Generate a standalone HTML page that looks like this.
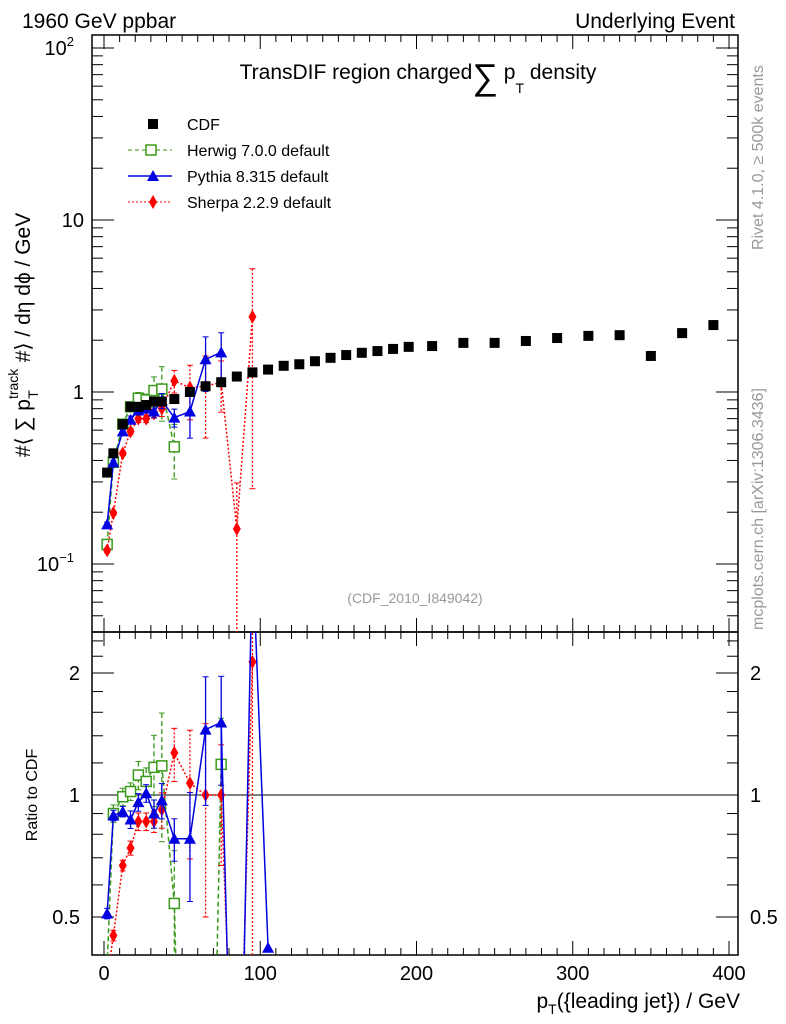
<!DOCTYPE html>
<html><head><meta charset="utf-8">
<style>
html,body{margin:0;padding:0;background:#fff;width:786px;height:1024px;overflow:hidden;}
svg{display:block;font-family:"Liberation Sans",sans-serif;}
</style></head>
<body>
<svg id="chart" width="786" height="1024" viewBox="0 0 786 1024" xmlns="http://www.w3.org/2000/svg">
<text x="22" y="28" font-size="21">1960 GeV ppbar</text>
<text x="735" y="28" font-size="21" text-anchor="end">Underlying Event</text>
<text x="418" y="79" font-size="21" text-anchor="middle">TransDIF region charged<tspan font-size="36" dy="10">∑</tspan><tspan dy="-10"> p</tspan><tspan font-size="14" dy="14">T</tspan><tspan dy="-14"> density</tspan></text>
<text transform="translate(763,250) rotate(-90)" font-size="16" fill="#999">Rivet 4.1.0, ≥ 500k events</text>
<text transform="translate(763,630) rotate(-90)" font-size="16" fill="#999">mcplots.cern.ch [arXiv:1306.3436]</text>
<text x="415" y="603" font-size="14" fill="#999" text-anchor="middle">(CDF_2010_I849042)</text>
<text transform="translate(30,335) rotate(-90)" font-size="21" text-anchor="middle">#⟨ ∑ p<tspan font-size="14" dy="-12">track</tspan><tspan font-size="14" dy="20" dx="-30">T</tspan><tspan dy="-8" dx="22"> #⟩ / dη dϕ / GeV</tspan></text>
<text transform="translate(37,795) rotate(-90)" font-size="16" text-anchor="middle">Ratio to CDF</text>
<text x="740" y="1008" font-size="21" text-anchor="end">p<tspan font-size="14" dy="6">T</tspan><tspan dy="-6">({leading jet}) / GeV</tspan></text>
<g id="legend">
 <g><rect x="148" y="119" width="10" height="10" fill="#000"/><text x="187" y="130" font-size="16">CDF</text></g>
 <g><line x1="128" x2="172" y1="150" y2="150" stroke="#3a9a1a" stroke-dasharray="4,3"/><rect x="146" y="145" width="10" height="10" fill="#fff" stroke="#3a9a1a" stroke-width="1.5"/><text x="187" y="156" font-size="16">Herwig 7.0.0 default</text></g>
 <g><line x1="128" x2="172" y1="176" y2="176" stroke="#0000e0" stroke-width="1.5"/><polygon points="153,170 147,181 159,181" fill="#0000e0"/><text x="187" y="182" font-size="16">Pythia 8.315 default</text></g>
 <g><line x1="128" x2="172" y1="202" y2="202" stroke="#f00" stroke-dasharray="2,2"/><polygon points="153,195 157,202 153,209 149,202" fill="#f00"/><text x="187" y="208" font-size="16">Sherpa 2.2.9 default</text></g>
</g>
<g id="axes"></g>
<g id="marks"></g>
</svg>
<script>
const xCDF=[2,6,12,17,22,27,32,37,45,55,65,75,85,95,105,115,125,135,145,155,165,175,185,195,210,230,250,270,290,310,330,350,370,390];
const yCDF=[0.34,0.44,0.65,0.82,0.82,0.84,0.88,0.88,0.91,1.0,1.08,1.14,1.23,1.30,1.35,1.42,1.45,1.51,1.58,1.64,1.69,1.73,1.78,1.83,1.85,1.93,1.93,1.98,2.06,2.12,2.14,1.62,2.2,2.45];
const xMC=[2,6,12,17,22,27,32,37,45,55,65,75,85,95,105];
const yHerwig=[0.13,0.39,0.65,0.82,0.92,0.90,1.02,1.04,0.48];
const errHerwig=[0.05,0.05,0.05,0.05,0.08,0.08,0.2,0.35,0.35,0,0,0.3];
const rHerwig=[0.38,0.90,0.99,1.02,1.12,1.08,1.17,1.18,0.54,0.02,0.02,1.19];
const yPythia=[0.17,0.39,0.59,0.69,0.78,0.80,0.77,0.89,0.71,0.77,1.55,1.70];
const errPythia=[0.03,0.03,0.03,0.05,0.05,0.05,0.08,0.1,0.12,0.3,0.35,0.3,0];
const rPythia=[0.51,0.89,0.91,0.87,0.96,1.01,0.90,0.97,0.78,0.78,1.45,1.51,0.05,4.0,0.42];
const ySherpa=[0.12,0.198,0.44,0.59,0.70,0.70,0.75,0.80,1.16,1.06,1.08,1.14,0.16,2.74];
const errSherpa=[0.03,0.03,0.03,0.04,0.05,0.05,0.06,0.1,0.15,0.35,0.5,0.33,0.85,0.9];
const rSherpa=[0.35,0.45,0.67,0.74,0.86,0.86,0.86,0.92,1.27,1.07,1.0,1.0,0.1,2.13];
const xTicks=[0,100,200,300,400];

const NS="http://www.w3.org/2000/svg";
const L=92,R=738,T=35,MB=632,RB=955;
const X=v=>104+v*1.5625;
const Y=v=>392-172*Math.log10(v);
const RY=v=>795-122*Math.log2(v);
const axes=document.getElementById('axes'),marks=document.getElementById('marks');
function mk(tag,at,p){const e=document.createElementNS(NS,tag);for(const k in at)e.setAttribute(k,at[k]);(p||axes).appendChild(e);return e;}
const defs=mk('defs',{});
const c1=mk('clipPath',{id:'cm'},defs);mk('rect',{x:L,y:T,width:R-L,height:MB-T},c1);
const c2=mk('clipPath',{id:'cr'},defs);mk('rect',{x:L,y:MB,width:R-L,height:RB-MB},c2);
let f=mk('rect',{x:L,y:T,width:R-L,height:MB-T,fill:'none',stroke:'#000','stroke-width':1.5});


f=mk('rect',{x:L,y:MB,width:R-L,height:RB-MB,fill:'none',stroke:'#000','stroke-width':1.5});


for(let v=0;v<=410;v+=10){const px=X(v);if(px>R)break;const len=v%100===0?14:7;
 mk('line',{x1:px,x2:px,y1:MB,y2:MB-len,stroke:'#000'});mk('line',{x1:px,x2:px,y1:T,y2:T+len,stroke:'#000'});
 mk('line',{x1:px,x2:px,y1:RB,y2:RB-len,stroke:'#000'});mk('line',{x1:px,x2:px,y1:MB,y2:MB+len,stroke:'#000'});}
xTicks.forEach(v=>{const t=mk('text',{x:X(v),y:980,'font-size':20,'text-anchor':'middle'});t.textContent=v;
 
 });
for(let d=-2;d<=2;d++)for(let m=1;m<10;m++){const v=m*Math.pow(10,d);const py=Y(v);if(py<T||py>MB)continue;const len=m===1?22:11;
 mk('line',{x1:L,x2:L+len,y1:py,y2:py,stroke:'#000'});mk('line',{x1:R,x2:R-len,y1:py,y2:py,stroke:'#000'});}
[[0.1,'10','−1'],[1,'1',''],[10,'10',''],[100,'10','2']].forEach(a=>{const t=mk('text',{x:a[2]?74:84,y:Y(a[0])+7,'font-size':20,'text-anchor':'end'});
 t.textContent=a[1];if(a[2]){const s=mk('tspan',{'font-size':13,dy:-9},t);s.textContent=a[2];}
 
 });
[0.5,0.6,0.7,0.8,0.9,1,1.2,1.4,1.6,1.8,2,2.2,2.4].forEach(v=>{const py=RY(v);const big=[0.5,1,2].includes(v);const len=big?22:11;
 mk('line',{x1:L,x2:L+len,y1:py,y2:py,stroke:'#000'});mk('line',{x1:R,x2:R-len,y1:py,y2:py,stroke:'#000'});});
[0.5,1,2].forEach(v=>{[[80,'end'],[750,'start']].forEach(s=>{const t=mk('text',{x:s[0],y:RY(v)+7,'font-size':20,'text-anchor':s[1]});t.textContent=v;
 
 });});
const one=mk('line',{x1:L,x2:R,y1:RY(1),y2:RY(1),stroke:'#000'});



const gm=mk('g',{'clip-path':'url(#cm)'},marks),gr=mk('g',{'clip-path':'url(#cr)'},marks);
function marker(g,type,col,px,py){
 if(type==='sq')return mk('rect',{x:px-5,y:py-5,width:10,height:10,fill:'#000'},g);
 if(type==='osq')return mk('rect',{x:px-5,y:py-5,width:10,height:10,fill:'#fff',stroke:col,'stroke-width':1.5},g);
 if(type==='tri')return mk('polygon',{points:`${px},${py-6} ${px-6},${py+5} ${px+6},${py+5}`,fill:col},g);
 return mk('polygon',{points:`${px},${py-7} ${px+4},${py} ${px},${py+7} ${px-4},${py}`,fill:col},g);
}
function series(name,g,xs,ys,errs,type,col,dash,yf){
 const n=ys.length;let d='';
 for(let i=0;i<n;i++)d+=(i?'L':'M')+X(xs[i])+','+yf(ys[i]);
 if(col){const p=mk('path',{d:d,fill:'none',stroke:col,'stroke-width':1.5,'stroke-dasharray':dash},g);
  
  }
 for(let i=0;i<n;i++){
  if(errs&&errs[i]>0){const px=X(xs[i]);const a=yf(ys[i]*(1+errs[i])),b=yf(Math.max(ys[i]*(1-errs[i]),1e-3));
   mk('line',{x1:px,x2:px,y1:a,y2:b,stroke:col,'stroke-width':1.3,'stroke-dasharray':dash},g);
   mk('line',{x1:px-3,x2:px+3,y1:a,y2:a,stroke:col},g);mk('line',{x1:px-3,x2:px+3,y1:b,y2:b,stroke:col},g);}
  const m=marker(g,type,col,X(xs[i]),yf(ys[i]));
  
  }
}
series('herwig',gm,xMC,yHerwig,errHerwig,'osq','#3a9a1a','5,3',Y);
series('sherpa',gm,xMC,ySherpa,errSherpa,'dia','#f00','2,2',Y);
series('pythia',gm,xMC,yPythia,errPythia,'tri','#0000e0','',Y);
series('cdf',gm,xCDF,yCDF,null,'sq',null,'',Y);
series('herwig-ratio',gr,xMC,rHerwig,errHerwig,'osq','#3a9a1a','5,3',RY);
series('sherpa-ratio',gr,xMC,rSherpa,errSherpa,'dia','#f00','2,2',RY);
series('pythia-ratio',gr,xMC,rPythia,errPythia,'tri','#0000e0','',RY);
</script>
</body></html>
